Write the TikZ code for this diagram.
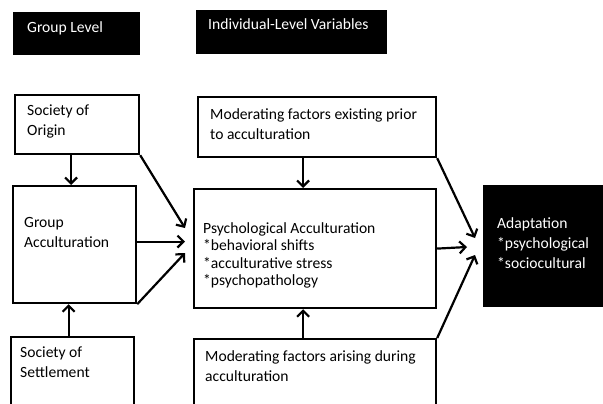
\documentclass[tikz,border=0pt]{standalone}
\usepackage{fontspec}
\setmainfont{Carlito}
\usetikzlibrary{calc,arrows.meta}

\begin{document}
\begin{tikzpicture}[x=1pt,y=-1pt,
    box/.style={draw,line width=2.2pt,inner sep=0pt,anchor=north west},
    blk/.style={box,fill=black},
    txt/.style={inner sep=0pt,anchor=north west,align=left,text=black,font=\fontsize{15.6}{20}\selectfont},
    wtxt/.style={txt,text=white},
    arr/.style={line width=2.2pt,-{Straight Barb[length=6pt,width=12pt]}}]

    \useasboundingbox[fill=white] (0,0) rectangle (603,404);

    \node[blk, minimum width=125pt, minimum height=41pt] (grp) at (13,12) {};
    \node[blk, minimum width=189pt, minimum height=42pt] (ind) at (196,10) {};
    \node[blk, minimum width=125pt, minimum height=120pt] (adapt) at (483,185) {};

    \node[box, minimum width=124pt, minimum height=59pt] (origin) at (14,94) {};
    \node[box, minimum width=123pt, minimum height=117pt] (gacc) at (12,185) {};
    \node[box, minimum width=123pt, minimum height=90pt] (settle) at (10,336) {};
    \node[box, minimum width=238pt, minimum height=60pt] (prior) at (197,96) {};
    \node[box, minimum width=242pt, minimum height=119pt] (psy) at (193,188) {};
    \node[box, minimum width=242pt, minimum height=90pt] (arise) at (193,338) {};

    \node[wtxt] (grptxt) at ($(grp.north west)+(14,9)$) {Group Level};
    \node[wtxt] (indtxt) at ($(ind.north west)+(12,8)$) {Individual-Level Variables};
    \node[wtxt] (adapttxt) at ($(adapt.north west)+(14,32)$) {Adaptation\\*psychological\\*sociocultural};

    \node[txt] (origintxt) at ($(origin.north west)+(13,11)$) {Society of\\Origin};
    \node[txt] (gacctxt) at ($(gacc.north west)+(12,32)$) {Group\\Acculturation};
    \node[txt] (settletxt) at ($(settle.north west)+(10,11)$) {Society of\\Settlement};
    \node[txt] (priortxt) at ($(prior.north west)+(13,12)$) {Moderating factors existing prior\\to acculturation};
    \node[txt, font=\fontsize{15.6}{17.5}\selectfont] (psytxt) at ($(psy.north west)+(10,34)$)
        {Psychological Acculturation\\*behavioral shifts\\*acculturative stress\\*psychopathology};
    \node[txt] (arisetxt) at ($(arise.north west)+(12,12)$) {Moderating factors arising during\\acculturation};

    \coordinate (pA) at (185,228);
    \coordinate (pC) at (185,253);
    \coordinate (qA) at (475,238);
    \coordinate (qB) at (467,247);
    \coordinate (qC) at (475,255);

    \draw[arr] ($(origin.south)+(-6,0)$) coordinate (o1) -- (o1 |- gacc.north);
    \draw[arr] ($(settle.north)+(-4,0)$) coordinate (s1) -- (s1 |- gacc.south);
    \draw[arr] (origin.south east) -- (pA);
    \draw[arr] ($(gacc.east)+(0,-3)$) coordinate (g1) -- (g1 -| pA);
    \draw[arr] (gacc.south east) -- (pC);

    \draw[arr] ($(prior.south)+(-14,0)$) coordinate (m1) -- (m1 |- psy.north);
    \draw[arr] ($(arise.north)+(-12,0)$) coordinate (m2) -- (m2 |- psy.south);
    \draw[arr] (prior.south east) -- (qA);
    \draw[arr] (psy.east) -- (qB);
    \draw[arr] (arise.north east) -- (qC);
\end{tikzpicture}
\end{document}
